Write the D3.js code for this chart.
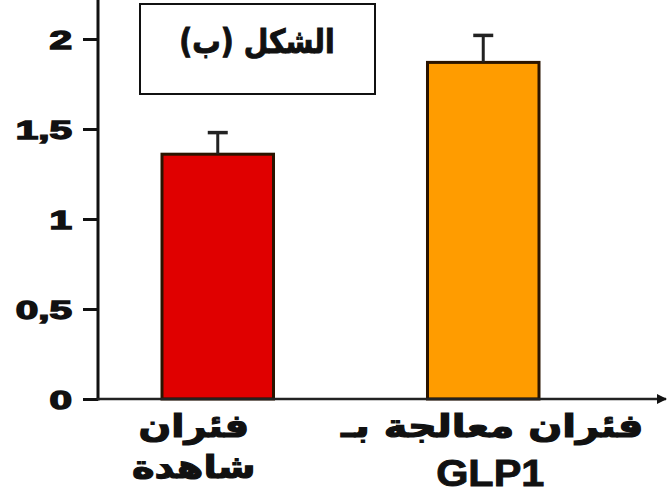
<!DOCTYPE html>
<html>
<head>
<meta charset="utf-8">
<script src="https://cdn.jsdelivr.net/npm/d3@7"></script>
<style>
  body { margin: 0; background: #fff; }
  svg { display: block; }
</style>
</head>
<body>
<div id="plot"></div>
<script>
// chart data
const groups = ["control", "glp1"];
const groupLine1 = ["فئران", "فئران معالجة بـ"];
const groupLine2 = ["شاهدة", "GLP1"];
const means = [1.36, 1.87];
const errors = [0.12, 0.15];
const barColors = ["#e00000", "#ff9c00"];
const yTicks = [0, 0.5, 1, 1.5, 2];
const yTickLabels = ["0", "0,5", "1", "1,5", "2"];
const title = "الشكل (ب)";

const svgWidth = 667;
const svgHeight = 496;

const svg = d3.select("#plot")
  .append("svg")
  .attr("width", svgWidth)
  .attr("height", svgHeight);

// scales
const xScale = d3.scaleBand().domain(groups).range([162, 539]).paddingInner(0.58).paddingOuter(0);
const yScale = d3.scaleLinear().domain([0, 2]).range([399, 39]);
const axisX = 98;

// bars
svg.selectAll("rect.bar")
  .data(groups)
  .enter()
  .append("rect")
  .attr("class", "bar")
  .attr("x", d => xScale(d))
  .attr("y", (d, i) => yScale(means[i]))
  .attr("width", xScale.bandwidth())
  .attr("height", (d, i) => yScale(0) - yScale(means[i]))
  .attr("fill", (d, i) => barColors[i])
  .attr("stroke", "#2a1400")
  .attr("stroke-width", 3);

// error bars (upper only)
const errG = svg.selectAll("g.err")
  .data(groups)
  .enter()
  .append("g")
  .attr("class", "err")
  .attr("transform", d => `translate(${xScale(d) + xScale.bandwidth() / 2},0)`);

errG.append("line")
  .attr("y1", (d, i) => yScale(means[i]))
  .attr("y2", (d, i) => yScale(means[i] + errors[i]))
  .attr("stroke", "#222")
  .attr("stroke-width", 3);

errG.append("line")
  .attr("x1", -10).attr("x2", 10)
  .attr("y1", (d, i) => yScale(means[i] + errors[i]))
  .attr("y2", (d, i) => yScale(means[i] + errors[i]))
  .attr("stroke", "#222")
  .attr("stroke-width", 3.5);

// y axis
const yAxis = d3.axisLeft(yScale)
  .tickValues(yTicks)
  .tickFormat("")
  .tickSize(15);

const yg = svg.append("g")
  .attr("transform", `translate(${axisX},0)`)
  .call(yAxis);

yg.select(".domain").remove();
yg.selectAll(".tick line").attr("stroke", "#111").attr("stroke-width", 3);
yg.selectAll(".tick text").remove();
yg.selectAll(".tick").append("text")
  .attr("transform", "translate(-26,9) scale(1.62,1)")
  .attr("text-anchor", "end")
  .attr("fill", "#111")
  .attr("stroke", "#111")
  .attr("stroke-width", 1.4)
  .style("font-family", "Liberation Sans, Arial, sans-serif")
  .style("font-weight", "bold")
  .style("font-size", "25px")
  .text((d, i) => yTickLabels[i]);

svg.append("line")
  .attr("x1", axisX).attr("x2", axisX)
  .attr("y1", 0).attr("y2", yScale(0) + 1.5)
  .attr("stroke", "#111")
  .attr("stroke-width", 3);

// x axis with arrow head
svg.append("defs").append("marker")
  .attr("id", "arrow")
  .attr("viewBox", "0 0 10 10")
  .attr("refX", 9).attr("refY", 5)
  .attr("markerWidth", 4).attr("markerHeight", 4)
  .attr("orient", "auto")
  .append("path")
  .attr("d", "M0,0 L10,5 L0,10 z")
  .attr("fill", "#111");

svg.append("line")
  .attr("x1", axisX - 1.5).attr("x2", 666)
  .attr("y1", yScale(0)).attr("y2", yScale(0))
  .attr("stroke", "#222")
  .attr("stroke-width", 2.5)
  .attr("marker-end", "url(#arrow)");

// category labels
const labelOffsets = [-24, 9];
const catG = svg.selectAll("g.cat")
  .data(groups)
  .enter()
  .append("g")
  .attr("class", "cat")
  .attr("transform", (d, i) => `translate(${xScale(d) + xScale.bandwidth() / 2 + labelOffsets[i]},0)`);

catG.append("text")
  .attr("transform", (d, i) => i === 0 ? "translate(0,437) scale(1.2,1)" : "translate(0,437) scale(1.25,1)")
  .attr("text-anchor", "middle")
  .attr("fill", "#111")
  .attr("stroke", "#111")
  .attr("stroke-width", 1.2)
  .style("font-family", "DejaVu Sans, sans-serif")
  .style("font-weight", "bold")
  .style("font-size", "32px")
  .text((d, i) => groupLine1[i]);

catG.append("text")
  .attr("transform", (d, i) => i === 0 ? "translate(0,478) scale(1.2,1)" : "translate(-2,486) scale(1.12,1)")
  .attr("text-anchor", "middle")
  .attr("fill", "#111")
  .attr("stroke", "#111")
  .attr("stroke-width", (d, i) => i === 0 ? 1.2 : 0.9)
  .style("font-family", (d, i) => i === 0 ? "DejaVu Sans, sans-serif" : "Liberation Sans, Arial, sans-serif")
  .style("font-weight", "bold")
  .style("font-size", (d, i) => i === 0 ? "32px" : "37px")
  .text((d, i) => groupLine2[i]);

// title box
svg.append("rect")
  .attr("x", 140).attr("y", 4)
  .attr("width", 235).attr("height", 90)
  .attr("fill", "#fff")
  .attr("stroke", "#111")
  .attr("stroke-width", 2);

svg.append("text")
  .attr("transform", "translate(257,53) scale(0.86,1)")
  .attr("text-anchor", "middle")
  .attr("fill", "#111")
  .attr("stroke", "#111")
  .attr("stroke-width", 1)
  .style("font-family", "DejaVu Sans, sans-serif")
  .style("font-weight", "bold")
  .style("font-size", "33px")
  .text(title);
</script>
</body>
</html>
